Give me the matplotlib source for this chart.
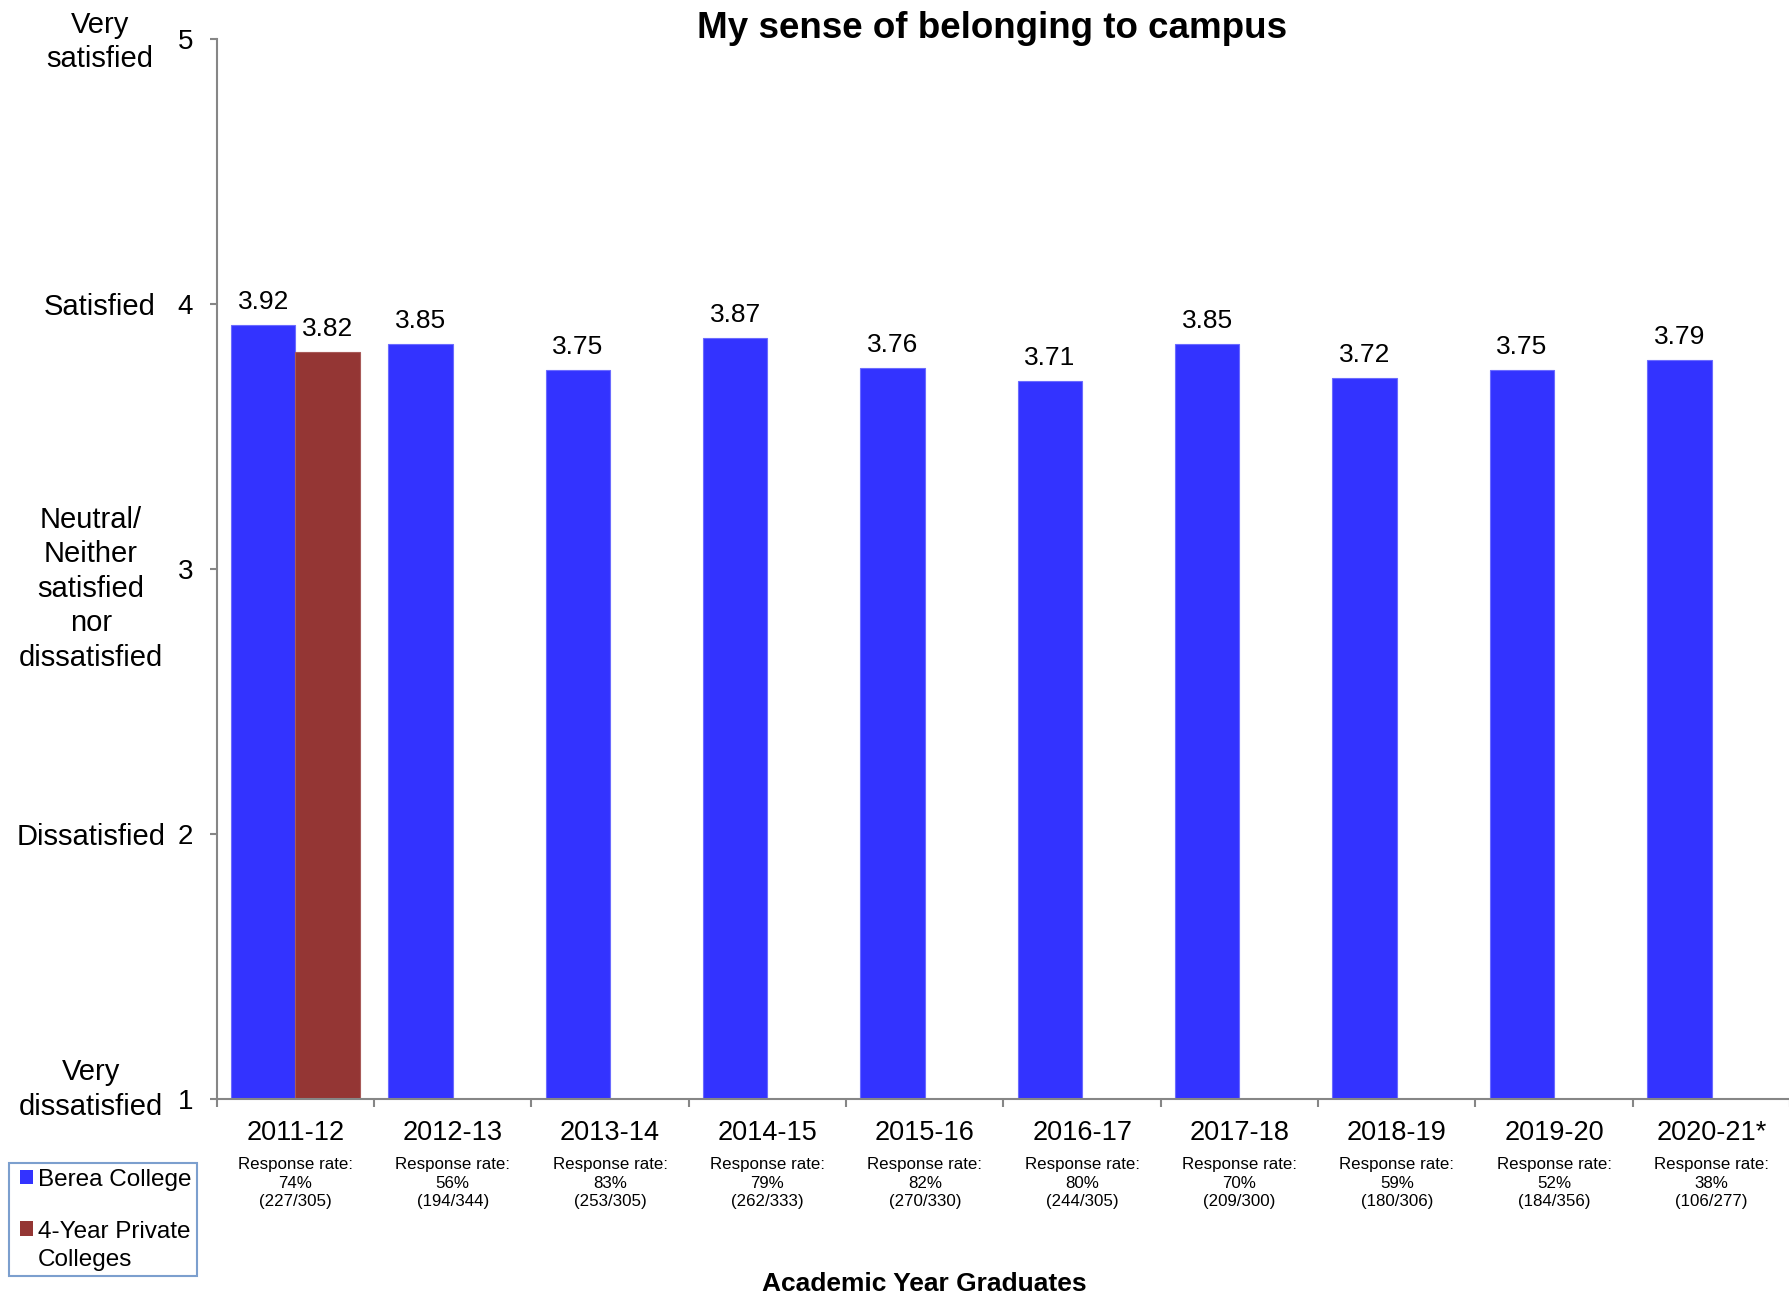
import matplotlib.pyplot as plt
import matplotlib.transforms as mtransforms
from matplotlib.patches import Patch, Rectangle
from matplotlib.legend_handler import HandlerPatch

# survey means, 1 = very dissatisfied ... 5 = very satisfied
years = ["2011-12", "2012-13", "2013-14", "2014-15", "2015-16",
         "2016-17", "2017-18", "2018-19", "2019-20", "2020-21*"]
berea = [3.92, 3.85, 3.75, 3.87, 3.76, 3.71, 3.85, 3.72, 3.75, 3.79]
private_4yr = [3.82]  # comparison group only reported for the first year
response_pct = [74, 56, 83, 79, 82, 80, 70, 59, 52, 38]
responded = [227, 194, 253, 262, 270, 244, 209, 180, 184, 106]
surveyed = [305, 344, 305, 333, 330, 305, 300, 306, 356, 277]
scale_labels = ["Very\ndissatisfied", "Dissatisfied",
                "Neutral/\nNeither\nsatisfied\nnor\ndissatisfied",
                "Satisfied", "Very\nsatisfied"]

BLUE = "#3333ff"
RED = "#943634"
GREY = "#868686"
SANS = ["Liberation Sans", "DejaVu Sans"]

plt.rcParams["font.family"] = SANS

fig = plt.figure(figsize=(17.9, 12.96), dpi=100)
ax = fig.add_axes([0.1211, 0.152, 0.879, 0.818])

w = 0.41
x = list(range(len(years)))
ax.bar([i - w / 2 for i in x], berea, width=w, color=BLUE,
       edgecolor="#6b6bff", linewidth=0.8, zorder=2)
ax.bar([i + w / 2 for i in range(len(private_4yr))], private_4yr, width=w,
       color=RED, edgecolor="#a85a58", linewidth=0.8, zorder=2)

for i, v in enumerate(berea):
    ax.annotate(f"{v:.2f}", (i - w / 2, v), xytext=(0, 11.5),
                textcoords="offset points", ha="center", va="baseline",
                fontsize=19)
for i, v in enumerate(private_4yr):
    ax.annotate(f"{v:.2f}", (i + w / 2, v), xytext=(0, 11.5),
                textcoords="offset points", ha="center", va="baseline",
                fontsize=19)

ax.set_ylim(1, 5)
ax.set_xlim(-0.5, len(years) - 0.5)

for side in ["top", "right"]:
    ax.spines[side].set_visible(False)
for side in ["left", "bottom"]:
    ax.spines[side].set_color(GREY)
    ax.spines[side].set_linewidth(1.5)

ax.set_yticks([1, 2, 3, 4, 5])
ax.set_yticklabels(["1", "2", "3", "4", "5"], fontsize=20)
ax.tick_params(axis="y", length=5, width=1.5, color=GREY, pad=12)

ax.set_xticks([i - 0.5 for i in range(len(years) + 1)])
ax.set_xticklabels([])
ax.tick_params(axis="x", length=6, width=1.5, color=GREY, direction="out")

# scale descriptions left of the numeric ticks
lbl = mtransforms.blended_transform_factory(fig.transFigure, ax.transData)
label_x = [91, 91, 91, 100, 100]
label_dy = [0.035, -0.01, -0.075, -0.01, -0.012]
for v, (txt, px, dy) in enumerate(zip(scale_labels, label_x, label_dy), start=1):
    ax.text(px / 1790, v + dy, txt, transform=lbl, ha="center", va="center",
            fontsize=21, linespacing=1.3)

# year labels and response rates under each group
below = mtransforms.blended_transform_factory(ax.transData, fig.transFigure)
for i, yr in enumerate(years):
    ax.text(i, 1 - 1133 / 1296, yr, transform=below, ha="center",
            va="center", fontsize=19.5)
    ax.text(i, 1 - 1157 / 1296,
            f"Response rate:\n{response_pct[i]}%\n({responded[i]}/{surveyed[i]})",
            transform=below, ha="center", va="top", fontsize=12.2,
            linespacing=1.3)

fig.text(992 / 1790, 1 - 29 / 1296, "My sense of belonging to campus",
         ha="center", va="center", fontsize=26.5, fontweight="bold")
fig.text(924 / 1790, 1 - 1284 / 1296, "Academic Year Graduates",
         ha="center", va="center", fontsize=19, fontweight="bold")


def square_on_first_line(lift):
    def make(legend, orig_handle, xdescent, ydescent, width, height, fontsize):
        return Rectangle((-xdescent + 4, -ydescent + lift), width, height)
    return make


blue_h = Patch(facecolor=BLUE)
red_h = Patch(facecolor=RED)
leg = fig.legend([blue_h, red_h], ["Berea College", "4-Year Private\nColleges"],
                 loc="lower left", bbox_to_anchor=(9 / 1790, 1 - 1276 / 1296),
                 fontsize=17.5, handlelength=0.55, handleheight=0.55,
                 handletextpad=0.42, labelspacing=1.25, borderpad=0.22,
                 borderaxespad=0, fancybox=False, frameon=True,
                 handler_map={blue_h: HandlerPatch(patch_func=square_on_first_line(0)),
                              red_h: HandlerPatch(patch_func=square_on_first_line(12.5))})
leg.get_texts()[1].set_linespacing(1.33)
leg.get_frame().set_edgecolor("#5b87c2")
leg.get_frame().set_linewidth(1.5)

fig.savefig("out.png", dpi=100, facecolor="white")
